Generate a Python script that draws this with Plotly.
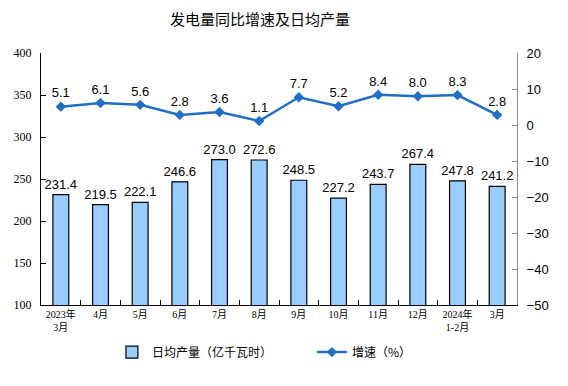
import plotly.graph_objects as go

categories = ["2023年<br>3月", "4月", "5月", "6月", "7月", "8月", "9月", "10月", "11月", "12月", "2024年<br>1-2月", "3月"]
daily_output = [231.4, 219.5, 222.1, 246.6, 273.0, 272.6, 248.5, 227.2, 243.7, 267.4, 247.8, 241.2]
growth = [5.1, 6.1, 5.6, 2.8, 3.6, 1.1, 7.7, 5.2, 8.4, 8.0, 8.3, 2.8]

sans = "Liberation Sans, Arial, sans-serif"
serif = "Liberation Serif, Times New Roman, serif"
cjk = "Noto Sans CJK SC"

fig = go.Figure()
fig.add_trace(go.Bar(
    x=categories, y=daily_output, name="日均产量（亿千瓦时）",
    marker=dict(color="#99CCFF", line=dict(color="#000000", width=1.2)),
    width=0.4,
    text=[f"{v:.1f}" for v in daily_output], textposition="outside",
    constraintext="none",
    textfont=dict(family=sans, size=13, color="#000"),
    cliponaxis=False, yaxis="y",
))
fig.add_trace(go.Scatter(
    x=categories, y=growth, name="增速（%）", mode="lines+markers+text",
    line=dict(color="#1F6FC5", width=2.5),
    marker=dict(symbol="diamond", size=8, color="#1F6FC5"),
    text=[f"{v:.1f}" for v in growth], textposition="top center",
    textfont=dict(family=sans, size=13, color="#000"),
    cliponaxis=False, yaxis="y2",
))

# page body has an 8px default margin, so the figure is sized/offset to compensate
fig.update_layout(
    width=560, height=378,
    margin=dict(l=33, r=51, t=45, b=81, autoexpand=False),
    paper_bgcolor="white", plot_bgcolor="white",
    title=dict(text="发电量同比增速及日均产量", x=0.45, xanchor="center", y=0.968, yanchor="middle",
               font=dict(family=cjk, size=15, color="#000")),
    showlegend=True,
    legend=dict(orientation="h", x=0.149, xanchor="left", y=-0.187, yanchor="middle",
                font=dict(family=cjk, size=12, color="#000"), entrywidth=155, entrywidthmode="pixels",
                itemwidth=30, bgcolor="rgba(0,0,0,0)"),
    xaxis=dict(
        type="category", range=[-0.5, len(categories) - 0.5], autorange=False,
        showline=True, linecolor="#000", linewidth=1,
        ticks="inside", tickson="boundaries", ticklen=5, tickcolor="#000", tickangle=0,
        tickfont=dict(family="Liberation Serif, Noto Sans CJK SC", size=10, color="#000"),
        showgrid=False, automargin=False,
    ),
    yaxis=dict(
        range=[100, 400], dtick=50, showline=True, linecolor="#000", linewidth=1,
        ticks="inside", ticklen=5, tickcolor="#000", showgrid=False, zeroline=False,
        tickfont=dict(family=serif, size=12, color="#000"), automargin=False,
        ticklabelstandoff=6,
    ),
    yaxis2=dict(
        range=[-50, 20], dtick=10, overlaying="y", side="right",
        showline=True, linecolor="#888", linewidth=1,
        ticks="inside", ticklen=5, tickcolor="#888", showgrid=False, zeroline=False,
        tickfont=dict(family=sans, size=13, color="#000"), automargin=False,
        ticklabelstandoff=6,
    ),
)

fig.write_html("out.html")
